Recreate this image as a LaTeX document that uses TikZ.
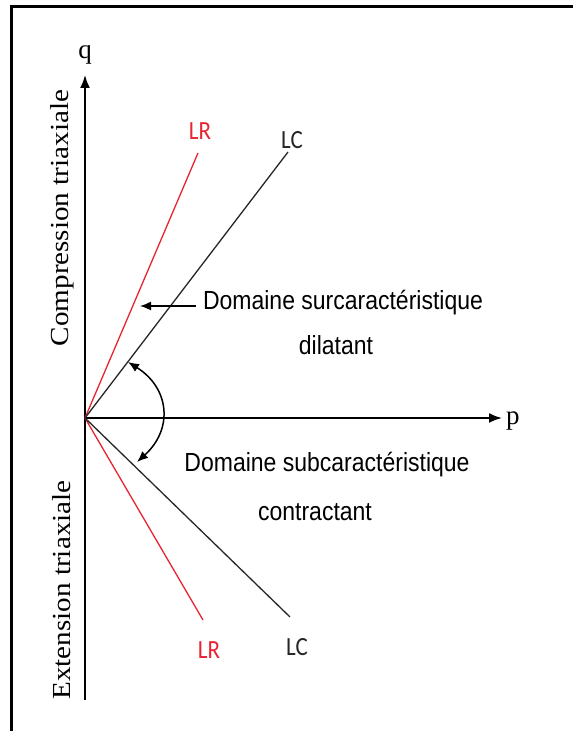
\documentclass[tikz,border=0pt]{standalone}
\usepackage{fontspec}
\setmainfont{Liberation Serif}
\newfontfamily\arialf{Liberation Sans}
\newfontfamily\calibf{Carlito}
\usetikzlibrary{arrows.meta}
\definecolor{lrred}{RGB}{232,35,50}
\newcommand{\tallify}[1]{\scalebox{1}[1.14]{#1}}
\tikzset{
  axis/.style={line width=1.8pt,-{Latex[length=13pt,width=10pt]}},
  lrline/.style={lrred,line width=1.3pt},
  lcline/.style={black!85,line width=1.3pt},
  lrlab/.style={lrred,font=\calibf\fontsize{23}{28}\selectfont},
  lclab/.style={black!85,font=\calibf\fontsize{23}{28}\selectfont},
  domtext/.style={font=\arialf\fontsize{23}{27}\selectfont,inner sep=0pt},
  sidetext/.style={rotate=90,font=\fontsize{26}{30}\selectfont,inner sep=0pt},
  axlab/.style={font=\fontsize{27}{30}\selectfont,inner sep=0pt},
  frameline/.style={line width=3pt},
  pointer/.style={line width=1.5pt,-{Latex[length=11pt,width=9pt]}},
  dbl/.style={line width=1.5pt,{Latex[length=11pt,width=9pt]}-{Latex[length=11pt,width=9pt]}}
}
\begin{document}
\begin{tikzpicture}[x=1pt,y=1pt]
\useasboundingbox (0,0) rectangle (573,731);
% frame
\coordinate (fbl) at (11.5,0);
\coordinate (ftl) at (11.5,724.5);
\coordinate (ftr) at (573,724.5);
\draw[frameline] (fbl) -- (ftl) -- (ftr);
% axes
\coordinate (O) at (85,313);
\coordinate (qbot) at (85,31);
\coordinate (qtip) at (85,656);
\coordinate (ptip) at (502,313);
\draw[axis] (qbot) -- (qtip);
\draw[axis] (O) -- (ptip);
\node[axlab,anchor=base] (q) at (85,672) {q};
\node[axlab,anchor=base west] (p) at (506,306) {p};
% lines
\coordinate (lrU) at (198,578);
\coordinate (lcU) at (288,579);
\coordinate (lrD) at (203,111);
\coordinate (lcD) at (290,114);
\draw[lrline] (O) -- (lrU);
\draw[lcline] (O) -- (lcU);
\draw[lrline] (O) -- (lrD);
\draw[lcline] (O) -- (lcD);
\node[lrlab] (lrUl) at (200,600) {\tallify{LR}};
\node[lclab] (lcUl) at (292,591) {\tallify{LC}};
\node[lrlab] (lrDl) at (209,81) {\tallify{LR}};
\node[lclab] (lcDl) at (297,84) {\tallify{LC}};
% side texts
\node[sidetext] (comp) at (62,513) {\scalebox{1.12}[1]{Compression triaxiale}};
\node[sidetext] (ext) at (62,141) {\scalebox{1.12}[1]{Extension triaxiale}};
% domain texts
\node[domtext] (sur) at (343,428) {\tallify{Domaine surcaractéristique}};
\node[domtext] (dil) at (336,386) {\tallify{dilatant}};
\node[domtext] (sub) at (327,266) {\tallify{Domaine subcaractéristique}};
\node[domtext] (con) at (315,219) {\tallify{contractant}};
% arrows
\coordinate (ptrS) at (196,425);
\coordinate (ptrE) at (140,425);
\draw[pointer] (ptrS) -- (ptrE);
\coordinate (arcU) at (128,369);
\coordinate (arcD) at (137,269);
\draw[dbl] (arcU) to[out=-32,in=42,looseness=1.25] (arcD);
\end{tikzpicture}
\end{document}
